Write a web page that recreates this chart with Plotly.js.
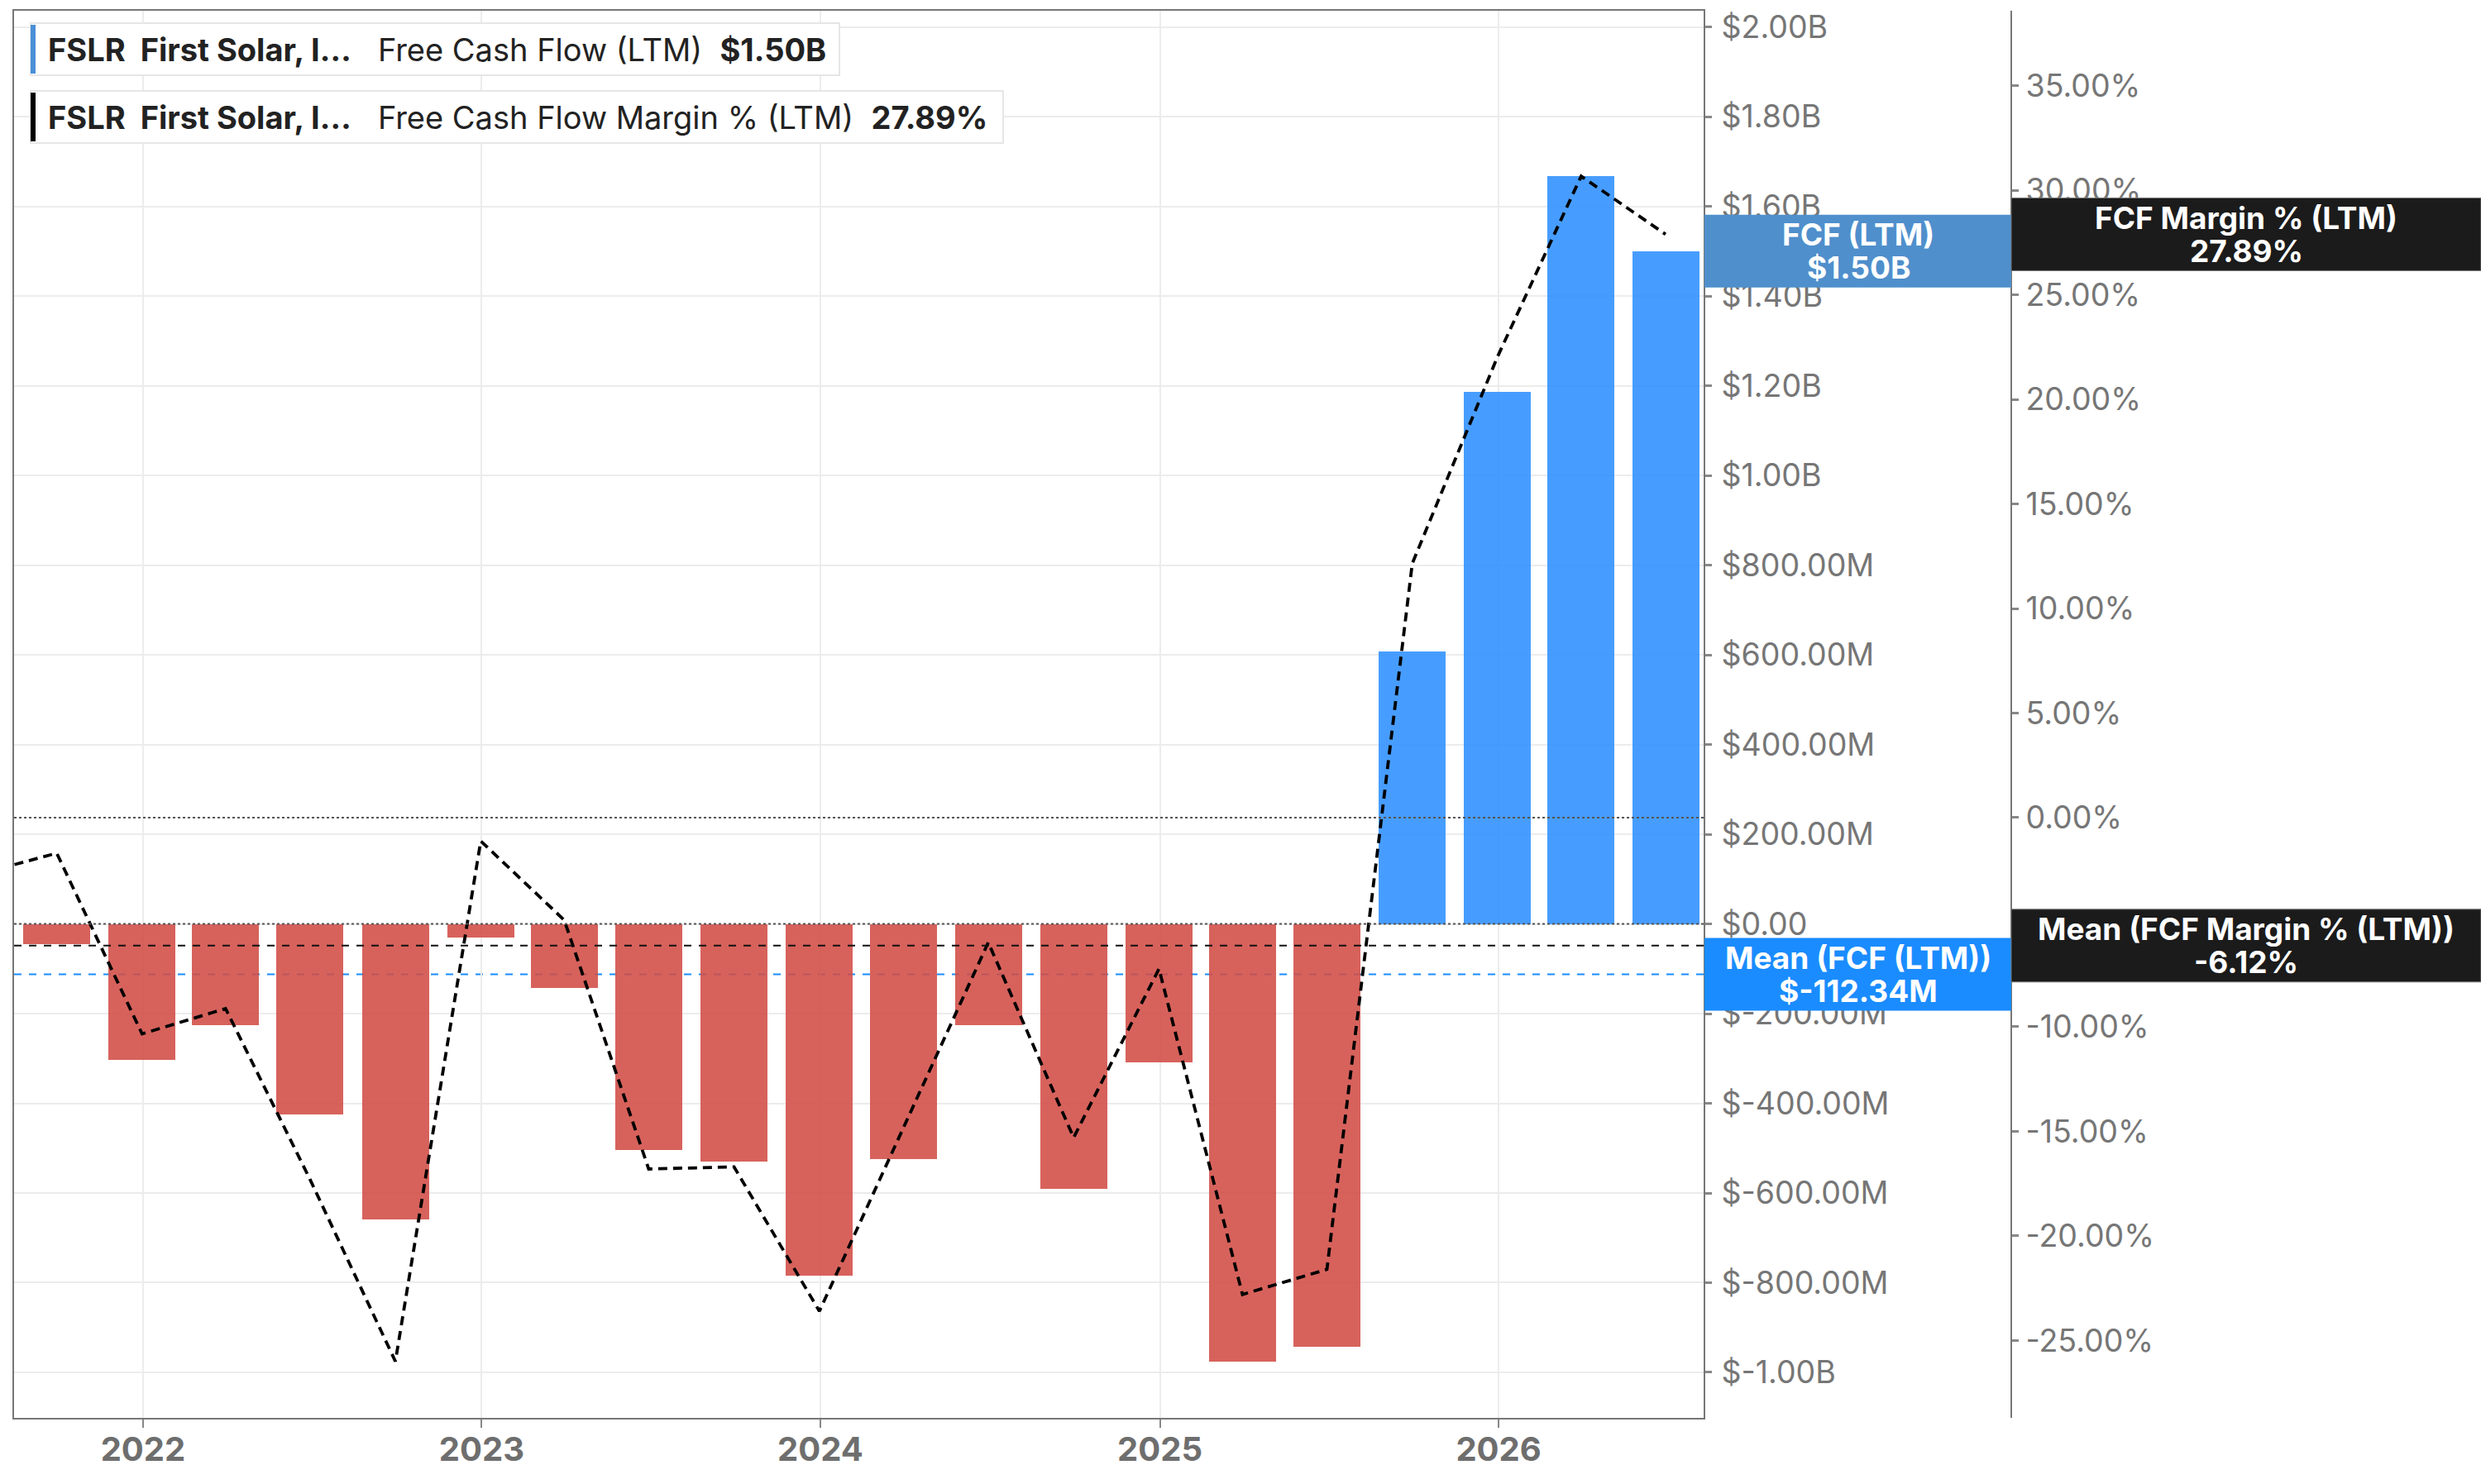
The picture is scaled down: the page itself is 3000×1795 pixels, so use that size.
<!DOCTYPE html>
<html>
<head>
<meta charset="utf-8">
<script src="https://cdn.plot.ly/plotly-3.0.1.min.js"></script>
<style>html,body{margin:0;padding:0;background:#fff;}#chart{width:3000px;height:1795px;}</style>
</head>
<body>
<div id="chart"></div>
<script>
// ---------- data ----------
const fcfDates = ['2021-09-30','2021-12-31','2022-03-31','2022-06-30','2022-09-30','2022-12-31',
  '2023-03-31','2023-06-30','2023-09-30','2023-12-31','2024-03-31','2024-06-30','2024-09-30',
  '2024-12-31','2025-03-31','2025-06-30','2025-09-30','2025-12-31','2026-03-31','2026-06-30'];
// Free cash flow (LTM), millions USD
const fcfValues = [-45.7,-303,-226.7,-424,-659,-30.4,-142,-503.6,-530,-784,-524.6,-225,-591,
  -308,-976.6,-943,607,1187,1667,1500];
const marginDates = ['2021-06-30','2021-09-30','2021-12-31','2022-03-31','2022-06-30','2022-09-30','2022-12-31',
  '2023-03-31','2023-06-30','2023-09-30','2023-12-31','2024-03-31','2024-06-30','2024-09-30',
  '2024-12-31','2025-03-31','2025-06-30','2025-09-30','2025-12-31','2026-03-31','2026-06-30'];
// Free cash flow margin % (LTM)
const marginValues = [-2.8,-1.70,-10.34,-9.13,-17.3,-26.0,-1.12,-4.9,-16.8,-16.7,-23.6,-14.8,-5.97,
  -15.3,-7.23,-22.8,-21.6,12.15,22.05,30.67,27.89];
const meanFcf = -112.34;     // millions
const meanMargin = -6.12;    // %
const yearTickDates = ['2022-01-01','2023-01-01','2024-01-01','2025-01-01','2026-01-01'];
const yearTickLabels = ['2022','2023','2024','2025','2026'];
const fcfTickVals = [-1000,-800,-600,-400,-200,0,200,400,600,800,1000,1200,1400,1600,1800,2000];
const fcfTickLabels = ['$-1.00B','$-800.00M','$-600.00M','$-400.00M','$-200.00M','$0.00','$200.00M',
  '$400.00M','$600.00M','$800.00M','$1.00B','$1.20B','$1.40B','$1.60B','$1.80B','$2.00B'];
const pctTickVals = [-25,-20,-15,-10,-5,0,5,10,15,20,25,30,35];
const pctTickLabels = ['-25.00%','-20.00%','-15.00%','-10.00%','-5.00%','0.00%','5.00%','10.00%',
  '15.00%','20.00%','25.00%','30.00%','35.00%'];
const tickerName = 'FSLR';
const companyName = 'First Solar, I…';
const fcfName = 'Free Cash Flow (LTM)';
const marginName = 'Free Cash Flow Margin % (LTM)';

// ---------- helpers ----------
const W = 3000, H = 1795;
const px = x => x / W;
const py = y => 1 - y / H;
const NB = '\u00a0';
function fmtMoney(m) {
  if (Math.abs(m) >= 1000) return '$' + (m / 1000).toFixed(2) + 'B';
  return '$' + m.toFixed(2) + 'M';
}
const lastFcf = fcfValues[fcfValues.length - 1];
const lastMargin = marginValues[marginValues.length - 1];

const plotTop = 13, plotBottom = 1715;
const yRange = [-1101.4, 2036];
const y2Range = [-28.70, 38.58];
const halfBoxPx = 44;
const hY = halfBoxPx * (yRange[1] - yRange[0]) / (plotBottom - plotTop);
const hY2 = halfBoxPx * (y2Range[1] - y2Range[0]) / (plotBottom - plotTop);

const FONT = 'Inter, Roboto, "Noto Sans", sans-serif';
const red = '#d24c45', blue = '#2e90ff';

const bars = {
  type: 'bar', x: fcfDates, y: fcfValues, yaxis: 'y', xaxis: 'x',
  width: 72.2 * 86400000,
  marker: { color: fcfValues.map(v => v < 0 ? red : blue), opacity: 0.88,
            line: { width: 0 } },
  hoverinfo: 'skip'
};
const line = {
  type: 'scatter', mode: 'lines', x: marginDates, y: marginValues, yaxis: 'y2', xaxis: 'x',
  line: { color: '#000', width: 3.8, dash: '11px,7px' }, hoverinfo: 'skip'
};

const shapes = [
  // zero lines
  { type: 'line', xref: 'x domain', x0: 0, x1: 1, yref: 'y', y0: 0, y1: 0,
    line: { color: '#555', width: 2, dash: 'dot' }, layer: 'above' },
  { type: 'line', xref: 'x domain', x0: 0, x1: 1, yref: 'y2', y0: 0, y1: 0,
    line: { color: '#555', width: 2, dash: 'dot' }, layer: 'above' },
  // mean lines
  { type: 'line', xref: 'x domain', x0: 0, x1: 1, yref: 'y', y0: meanFcf, y1: meanFcf,
    line: { color: '#1a8cff', width: 2, dash: 'dash' }, layer: 'below' },
  { type: 'line', xref: 'x domain', x0: 0, x1: 1, yref: 'y2', y0: meanMargin, y1: meanMargin,
    line: { color: '#111', width: 2, dash: 'dash' }, layer: 'above' },
  // legend boxes
  { type: 'rect', xref: 'paper', yref: 'paper', x0: px(37), x1: px(1015), y0: py(91), y1: py(28),
    fillcolor: '#fff', line: { color: '#e6e6e6', width: 2 }, layer: 'above' },
  { type: 'rect', xref: 'paper', yref: 'paper', x0: px(37), x1: px(43), y0: py(89), y1: py(30),
    fillcolor: '#4a8fd8', line: { width: 0 }, layer: 'above' },
  { type: 'rect', xref: 'paper', yref: 'paper', x0: px(37), x1: px(1213), y0: py(173), y1: py(110),
    fillcolor: '#fff', line: { color: '#e6e6e6', width: 2 }, layer: 'above' },
  { type: 'rect', xref: 'paper', yref: 'paper', x0: px(37), x1: px(43), y0: py(171), y1: py(112),
    fillcolor: '#000', line: { width: 0 }, layer: 'above' },
  // right label boxes
  { type: 'rect', xref: 'paper', yref: 'y', x0: px(2061), x1: px(2432), y0: lastFcf - hY, y1: lastFcf + hY,
    fillcolor: '#4f8fcc', line: { width: 0 }, layer: 'above' },
  { type: 'rect', xref: 'paper', yref: 'y2', x0: px(2432), x1: px(3000), y0: lastMargin - hY2, y1: lastMargin + hY2,
    fillcolor: '#1b1b1b', line: { color: '#777', width: 1 }, layer: 'above' },
  { type: 'rect', xref: 'paper', yref: 'y', x0: px(2061), x1: px(2432), y0: meanFcf - hY, y1: meanFcf + hY,
    fillcolor: '#1a8cff', line: { width: 0 }, layer: 'above' },
  { type: 'rect', xref: 'paper', yref: 'y2', x0: px(2432), x1: px(3000), y0: meanMargin - hY2, y1: meanMargin + hY2,
    fillcolor: '#1b1b1b', line: { color: '#777', width: 1 }, layer: 'above' }
];

const boxFont = { family: FONT, size: 37, color: '#fff', weight: 700 };
function boxLabel(x, yref, y, l1, l2) {
  return [
    { xref: 'paper', x: x, yref: yref, y: y, yshift: 20, xanchor: 'center', yanchor: 'middle',
      text: l1, showarrow: false, font: boxFont },
    { xref: 'paper', x: x, yref: yref, y: y, yshift: -20, xanchor: 'center', yanchor: 'middle',
      text: l2, showarrow: false, font: boxFont }
  ];
}
const legFont = { family: FONT, size: 38, color: '#222' };
const annotations = [
  { xref: 'paper', yref: 'paper', x: px(56), y: py(60), xanchor: 'left', yanchor: 'middle', showarrow: false,
    font: legFont,
    text: '<b>' + tickerName + NB + NB + companyName + '</b>' + NB + NB + NB + fcfName + NB + NB + '<b>' + fmtMoney(lastFcf) + '</b>' },
  { xref: 'paper', yref: 'paper', x: px(56), y: py(142), xanchor: 'left', yanchor: 'middle', showarrow: false,
    font: legFont,
    text: '<b>' + tickerName + NB + NB + companyName + '</b>' + NB + NB + NB + marginName + NB + NB + '<b>' + lastMargin.toFixed(2) + '%</b>' },
  ...boxLabel(px(2247), 'y', lastFcf, 'FCF (LTM)', fmtMoney(lastFcf)),
  ...boxLabel(px(2716), 'y2', lastMargin, 'FCF Margin % (LTM)', lastMargin.toFixed(2) + '%'),
  ...boxLabel(px(2247), 'y', meanFcf, 'Mean (FCF (LTM))', '$' + meanFcf.toFixed(2) + 'M'),
  ...boxLabel(px(2716), 'y2', meanMargin, 'Mean (FCF Margin % (LTM))', meanMargin.toFixed(2) + '%')
];

const tickFont = { family: FONT, size: 37.5, color: '#767676' };
const layout = {
  width: W, height: H,
  margin: { l: 0, r: 0, t: 0, b: 0, pad: 0 },
  paper_bgcolor: '#fff', plot_bgcolor: '#fff',
  showlegend: false, bargap: 0,
  xaxis: {
    type: 'date', domain: [px(17), px(2060)], range: ['2021-08-15', '2026-08-10'],
    tickvals: yearTickDates, ticktext: yearTickLabels,
    tickfont: { family: FONT, size: 40, color: '#6e6e6e', weight: 700 },
    showgrid: true, gridcolor: '#ececec', gridwidth: 2,
    showline: true, linecolor: '#777', linewidth: 2, mirror: true,
    ticks: 'outside', ticklen: 10, tickwidth: 2, tickcolor: '#888', ticklabelstandoff: -8,
    zeroline: false, anchor: 'y', fixedrange: true
  },
  yaxis: {
    domain: [py(plotBottom), py(plotTop)], range: yRange, side: 'right',
    tickvals: fcfTickVals, ticktext: fcfTickLabels, tickfont: tickFont,
    showgrid: true, gridcolor: '#ececec', gridwidth: 2,
    showline: true, linecolor: '#777', linewidth: 2, mirror: true,
    ticks: 'outside', ticklen: 8, tickwidth: 3, tickcolor: '#888', ticklabelstandoff: 4,
    zeroline: false, anchor: 'x', fixedrange: true
  },
  yaxis2: {
    overlaying: 'y', side: 'right', anchor: 'free', position: px(2432), range: y2Range,
    tickvals: pctTickVals, ticktext: pctTickLabels, tickfont: tickFont,
    showgrid: false, showline: true, linecolor: '#777', linewidth: 2,
    ticks: 'outside', ticklen: 8, tickwidth: 3, tickcolor: '#888', ticklabelstandoff: 1,
    zeroline: false, fixedrange: true
  },
  shapes: shapes,
  annotations: annotations
};

Plotly.newPlot('chart', [bars, line], layout, { staticPlot: true, displayModeBar: false });
</script>
</body>
</html>
